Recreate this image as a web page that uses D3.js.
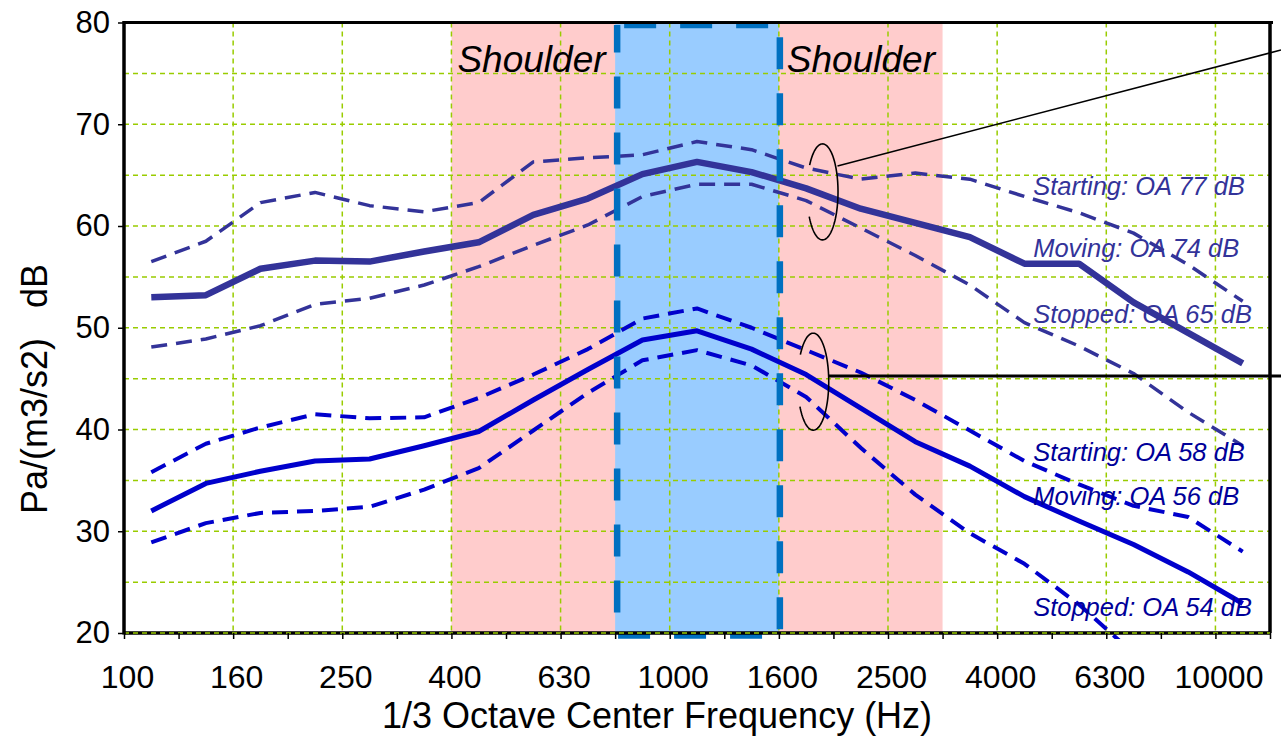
<!DOCTYPE html>
<html>
<head>
<meta charset="utf-8">
<script src="https://cdn.jsdelivr.net/npm/d3@7/dist/d3.min.js"></script>
<style>
  body { margin: 0; background: #fff; }
  text { font-family: "Liberation Sans", Arial, sans-serif; }
</style>
</head>
<body>
<div id="chart"></div>
<script>
// 1/3 octave band centres (Hz)
const bands = ['100', '125', '160', '200', '250', '315', '400', '500', '630', '800', '1000',
  '1250', '1600', '2000', '2500', '3150', '4000', '5000', '6300', '8000', '10000'];

// upper group (dark navy)
const upperStarting = [56.5, 58.5, 62.3, 63.3, 62.0, 61.4, 62.3, 66.3, 66.7, 67.0, 68.3,
  67.5, 65.7, 64.6, 65.2, 64.6, 62.9, 61.3, 59.3, 56.2, 52.6];
const upperMoving = [53.0, 53.2, 55.8, 56.6, 56.5, 57.5, 58.4, 61.1, 62.7, 65.1, 66.3,
  65.3, 63.7, 61.7, 60.3, 58.9, 56.3, 56.3, 52.5, 49.5, 46.5];
const upperStopped = [48.1, 48.9, 50.2, 52.3, 52.9, 54.2, 56.0, 58.1, 60.1, 62.9, 64.1,
  64.1, 62.5, 59.8, 57.1, 54.2, 50.5, 48.2, 45.5, 41.7, 38.4];

// lower group (blue)
const lowerStarting = [35.8, 38.6, 40.2, 41.5, 41.1, 41.2, 43.1, 45.4, 47.9, 50.9, 51.9,
  50.0, 47.8, 45.6, 42.9, 39.9, 36.9, 34.6, 32.5, 31.4, 28.0];
const lowerMoving = [32.0, 34.7, 35.9, 36.9, 37.1, 38.4, 39.8, 42.9, 45.9, 48.8, 49.7,
  47.9, 45.4, 42.1, 38.8, 36.4, 33.4, 31.0, 28.7, 26.0, 22.9];
const lowerStopped = [28.9, 30.8, 31.8, 32.0, 32.4, 34.1, 36.2, 39.9, 43.6, 46.8, 47.8,
  46.3, 43.2, 38.2, 33.6, 29.8, 26.8, 22.8, 18.0, null, null];

const upperLabels = ['Starting: OA 77 dB', 'Moving: OA 74 dB', 'Stopped: OA 65 dB'];
const lowerLabels = ['Starting: OA 58 dB', 'Moving: OA 56 dB', 'Stopped: OA 54 dB'];
const yTicks = [20, 30, 40, 50, 60, 70, 80];

// Draw area values
const W = 1281, H = 748;
const plot = { left: 124, right: 1270, top: 22.5, bottom: 633 };

const svg = d3.select('#chart').append('svg')
  .attr('width', W)
  .attr('height', H);

const x = d3.scaleBand().domain(bands).range([plot.left, plot.right]);
const xb = d3.scaleLinear().domain([0, bands.length]).range([plot.left, plot.right]); // band edges
const y = d3.scaleLinear().domain([20, 80]).range([plot.bottom, plot.top]);
const cx = b => x(b) + x.bandwidth() / 2;

// Shaded regions
svg.append('rect')
  .attr('x', x('400')).attr('y', plot.top)
  .attr('width', x('3150') - x('400')).attr('height', plot.bottom - plot.top)
  .attr('fill', '#ffcccc');
svg.append('rect')
  .attr('x', x('800')).attr('y', plot.top)
  .attr('width', x('1600') - x('800')).attr('height', plot.bottom - plot.top)
  .attr('fill', '#99ccff');

// Grid
const grid = svg.append('g')
  .attr('stroke', '#99cc00')
  .attr('stroke-width', 1.5)
  .attr('stroke-dasharray', '5,4');
grid.selectAll('.hy')
  .data(d3.range(25, 80, 5))
  .join('line')
    .attr('x1', plot.left).attr('x2', plot.right)
    .attr('y1', d => y(d)).attr('y2', d => y(d));
grid.selectAll('.vx')
  .data(d3.range(2, bands.length, 2))
  .join('line')
    .attr('x1', d => xb(d)).attr('x2', d => xb(d))
    .attr('y1', plot.top).attr('y2', plot.bottom);

// Lines
svg.append('clipPath').attr('id', 'clip')
  .append('rect')
    .attr('x', plot.left).attr('y', plot.top)
    .attr('width', plot.right - plot.left).attr('height', plot.bottom - plot.top + 6);

const line = d3.line()
  .defined(d => d != null)
  .x((d, i) => cx(bands[i]))
  .y(d => y(d));

const drawLine = (values, color, width, dash) => {
  svg.append('path')
    .datum(values)
    .attr('clip-path', 'url(#clip)')
    .attr('fill', 'none')
    .attr('stroke', color)
    .attr('stroke-width', width)
    .attr('stroke-linejoin', 'round')
    .attr('stroke-dasharray', dash)
    .attr('d', line);
};

drawLine(upperStarting, '#333399', 3.5, '16,9');
drawLine(upperStopped, '#333399', 3.5, '16,9');
drawLine(upperMoving, '#333399', 6.5, null);
drawLine(lowerStarting, '#0000cc', 4, '16,9');
drawLine(lowerStopped, '#0000cc', 4, '16,9');
drawLine(lowerMoving, '#0000cc', 5, null);

// Dashed outline of the centre band
svg.append('rect')
  .attr('x', x('800') + 2).attr('y', plot.top + 2.5)
  .attr('width', x('1600') - x('800') - 1).attr('height', plot.bottom - plot.top)
  .attr('fill', 'none')
  .attr('stroke', '#0070c0')
  .attr('stroke-width', 6.5)
  .attr('stroke-dasharray', '32,24')
  .attr('stroke-dashoffset', -7);

// Shoulder labels
svg.append('text')
  .attr('x', xb(6) + 6).attr('y', y(75.1))
  .attr('font-size', 37).attr('font-style', 'italic')
  .text('Shoulder');
svg.append('text')
  .attr('x', x('1600') + 8).attr('y', y(75.1))
  .attr('font-size', 37).attr('font-style', 'italic')
  .text('Shoulder');

// Series labels
const upperPos = [63.0, 56.95, 50.45];
const lowerPos = [36.9, 32.55, 21.7];
svg.selectAll('.ul')
  .data(upperLabels)
  .join('text')
    .attr('x', xb(16.66)).attr('y', (d, i) => y(upperPos[i]))
    .attr('font-size', 25.5).attr('font-style', 'italic')
    .attr('fill', '#333399')
    .text(d => d);
svg.selectAll('.ll')
  .data(lowerLabels)
  .join('text')
    .attr('x', xb(16.66)).attr('y', (d, i) => y(lowerPos[i]))
    .attr('font-size', 25.5).attr('font-style', 'italic')
    .attr('fill', '#000099')
    .text(d => d);

// Callouts: open ellipses with leader lines
const openEllipse = (ecx, ecy, rx, ry) => {
  const start = -2.55, end = 2.6; // angles from +x axis, y down; gap on the left
  const pts = d3.range(start, end + 0.001, 0.05)
    .map(t => [ecx + rx * Math.cos(t), ecy + ry * Math.sin(t)]);
  return d3.line()(pts);
};
svg.append('path')
  .attr('d', openEllipse(xb(12.8), y(63.35), 15.5, 48))
  .attr('fill', 'none').attr('stroke', '#000').attr('stroke-width', 1.6);
svg.append('line')
  .attr('x1', xb(12.8) + 15).attr('y1', y(65.9))
  .attr('x2', W).attr('y2', y(77.3))
  .attr('stroke', '#000').attr('stroke-width', 1.6);
svg.append('path')
  .attr('d', openEllipse(xb(12.63), y(44.7), 15.5, 48.5))
  .attr('fill', 'none').attr('stroke', '#000').attr('stroke-width', 1.6);
svg.append('line')
  .attr('x1', xb(12.63) + 15.5).attr('y1', y(45.25))
  .attr('x2', W).attr('y2', y(45.25))
  .attr('stroke', '#000').attr('stroke-width', 3);

// Frame
svg.append('line').attr('x1', plot.left).attr('x2', plot.right + 3)
  .attr('y1', plot.top).attr('y2', plot.top)
  .attr('stroke', '#000').attr('stroke-width', 3);
svg.append('line').attr('x1', plot.right).attr('x2', plot.right)
  .attr('y1', plot.top).attr('y2', plot.bottom)
  .attr('stroke', '#000').attr('stroke-width', 3.5);
svg.append('line').attr('x1', plot.left).attr('x2', plot.right)
  .attr('y1', plot.bottom).attr('y2', plot.bottom)
  .attr('stroke', '#000').attr('stroke-width', 3.5);
svg.append('line').attr('x1', plot.left).attr('x2', plot.right)
  .attr('y1', plot.bottom).attr('y2', plot.bottom)
  .attr('stroke', '#99cc00').attr('stroke-width', 1.5).attr('stroke-dasharray', '5,4');
svg.append('line').attr('x1', plot.left).attr('x2', plot.left)
  .attr('y1', plot.top - 1.5).attr('y2', plot.bottom + 1.5)
  .attr('stroke', '#000').attr('stroke-width', 3.5);

// X axis
const xAxis = svg.append('g')
  .attr('transform', `translate(0,${plot.bottom})`)
  .call(d3.axisBottom(xb)
    .tickValues(d3.range(0, bands.length + 1))
    .tickSize(6)
    .tickPadding(26)
    .tickFormat(i => (i % 2 === 0 && i < bands.length) ? bands[i] : ''));
xAxis.select('.domain').remove();
xAxis.selectAll('line').attr('stroke', '#000').attr('stroke-width', 1.5);
xAxis.selectAll('text')
  .attr('x', 3)
  .attr('font-size', 32)
  .attr('font-family', '"Liberation Sans", Arial, sans-serif')
  .attr('fill', '#000');

// Y axis
const yAxis = svg.append('g')
  .attr('transform', `translate(${plot.left},0)`)
  .call(d3.axisLeft(y)
    .tickValues(yTicks)
    .tickSize(6)
    .tickPadding(8));
yAxis.select('.domain').remove();
yAxis.selectAll('line').attr('stroke', '#000').attr('stroke-width', 1.5);
yAxis.selectAll('text')
  .attr('font-size', 31)
  .attr('font-family', '"Liberation Sans", Arial, sans-serif')
  .attr('fill', '#000');

// Axis titles
svg.append('text')
  .attr('x', 657).attr('y', 728)
  .attr('text-anchor', 'middle')
  .attr('font-size', 36)
  .text('1/3 Octave Center Frequency (Hz)');
svg.append('text')
  .attr('transform', 'translate(47,389) rotate(-90)')
  .attr('text-anchor', 'middle')
  .attr('font-size', 36)
  .style('white-space', 'pre')
  .text('Pa/(m3/s2)   dB');
</script>
</body>
</html>
